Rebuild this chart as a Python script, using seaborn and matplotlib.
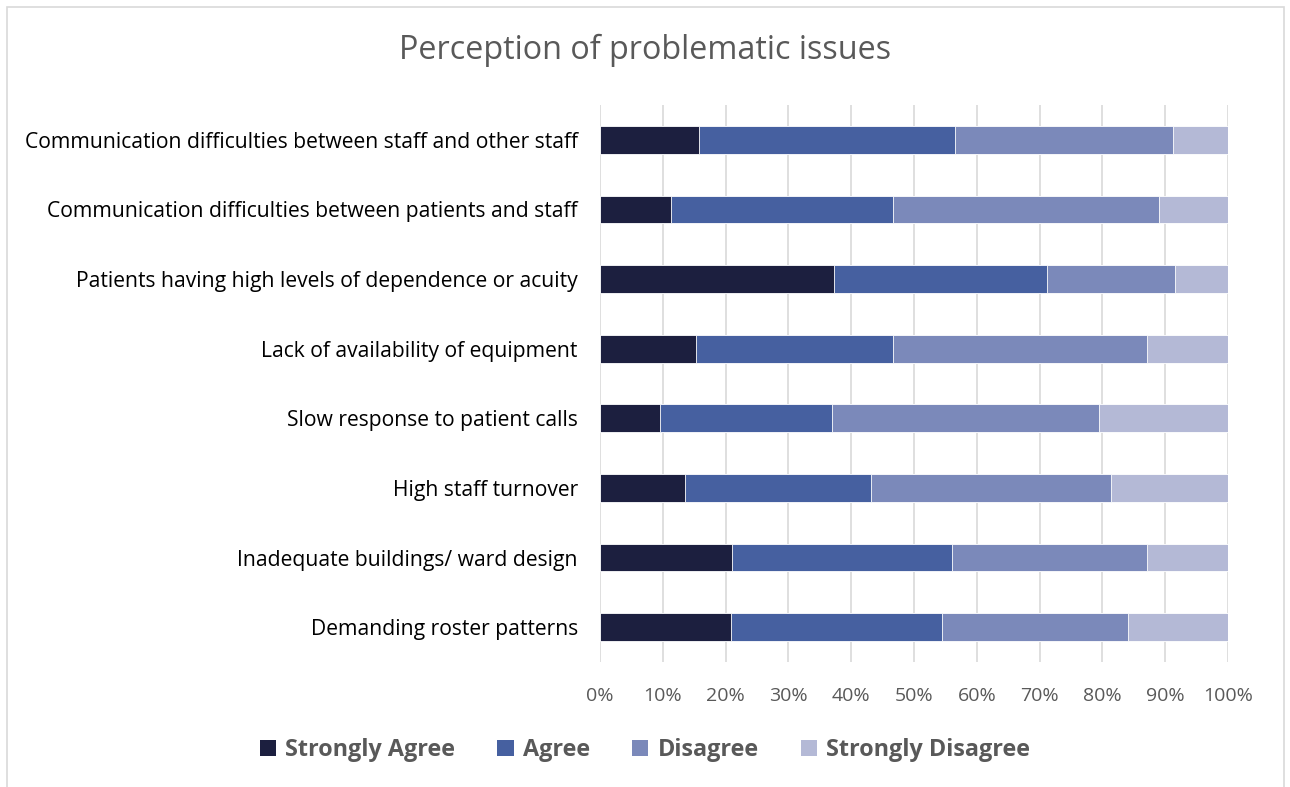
import matplotlib
matplotlib.use("Agg")
import matplotlib.pyplot as plt
import seaborn as sns
import pandas as pd
import numpy as np
from matplotlib.patches import Rectangle
from matplotlib.ticker import PercentFormatter

categories = [
    "Communication difficulties between staff and other staff",
    "Communication difficulties between patients and staff",
    "Patients having high levels of dependence or acuity",
    "Lack of availability of equipment",
    "Slow response to patient calls",
    "High staff turnover",
    "Inadequate buildings/ ward design",
    "Demanding roster patterns",
]
strongly_agree = [15.7, 11.3, 37.3, 15.3, 9.5, 13.6, 21.0, 20.8]
agree = [40.8, 35.3, 33.9, 31.3, 27.4, 29.5, 35.0, 33.7]
disagree = [34.7, 42.4, 20.4, 40.5, 42.6, 38.3, 31.1, 29.5]
strongly_disagree = [8.8, 11.0, 8.4, 12.9, 20.5, 18.6, 12.9, 16.0]

series_names = ["Strongly Agree", "Agree", "Disagree", "Strongly Disagree"]
colors = ["#1C1F3F", "#4660A0", "#7B89BA", "#B4B9D6"]

sns.set_style("white")
plt.rcParams["font.family"] = ["Open Sans", "DejaVu Sans"]

fig = plt.figure(figsize=(12.9, 7.87), dpi=100)
ax = fig.add_axes([600/1290, 1-662/787, 628/1290, 557/787])

data = np.array([strongly_agree, agree, disagree, strongly_disagree])
totals = data.sum(axis=0)
pct = data / totals * 100
cum = np.cumsum(pct, axis=0)

ax.set_axisbelow(True)
for i in range(3, -1, -1):
    df = pd.DataFrame({"cat": categories, "val": cum[i]})
    sns.barplot(data=df, x="val", y="cat", color=colors[i], width=0.40,
                ax=ax, orient="h", edgecolor="white", linewidth=0.6,
                saturation=1)

ax.set_xlim(0, 100)
ax.set_ylim(7.5, -0.5)
ax.set_xticks(np.arange(0, 101, 10))
ax.xaxis.set_major_formatter(PercentFormatter(decimals=0))
ax.grid(axis="x", color="#D9D9D9", linewidth=1.2)
ax.grid(axis="y", visible=False)
for s in ax.spines.values():
    s.set_visible(False)
ax.set_xlabel("")
ax.set_ylabel("")
ax.tick_params(axis="x", length=0, pad=18, labelsize=14, labelcolor="#595959")
ax.tick_params(axis="y", length=0, pad=16, labelsize=15.2, labelcolor="#000000")

fig.text(0.5, 1-50/787, "Perception of problematic issues", ha="center", va="center",
         fontsize=23.3, color="#595959")

handles = [Rectangle((0, 0), 1, 1, facecolor=c, edgecolor="none") for c in colors]
fig.legend(handles, series_names, loc="center", bbox_to_anchor=(0.5, 1-750/787), ncol=4,
           frameon=False, handlelength=0.7, handleheight=0.7, handletextpad=0.4,
           columnspacing=1.8, prop={"weight": "bold", "size": 16.8}, labelcolor="#595959")

fig.patches.append(Rectangle((7/1290, -0.01), 1277/1290, 1.01-7/787, transform=fig.transFigure,
                             fill=False, edgecolor="#D9D9D9", linewidth=1.2))

fig.savefig("out.png", dpi=100)
